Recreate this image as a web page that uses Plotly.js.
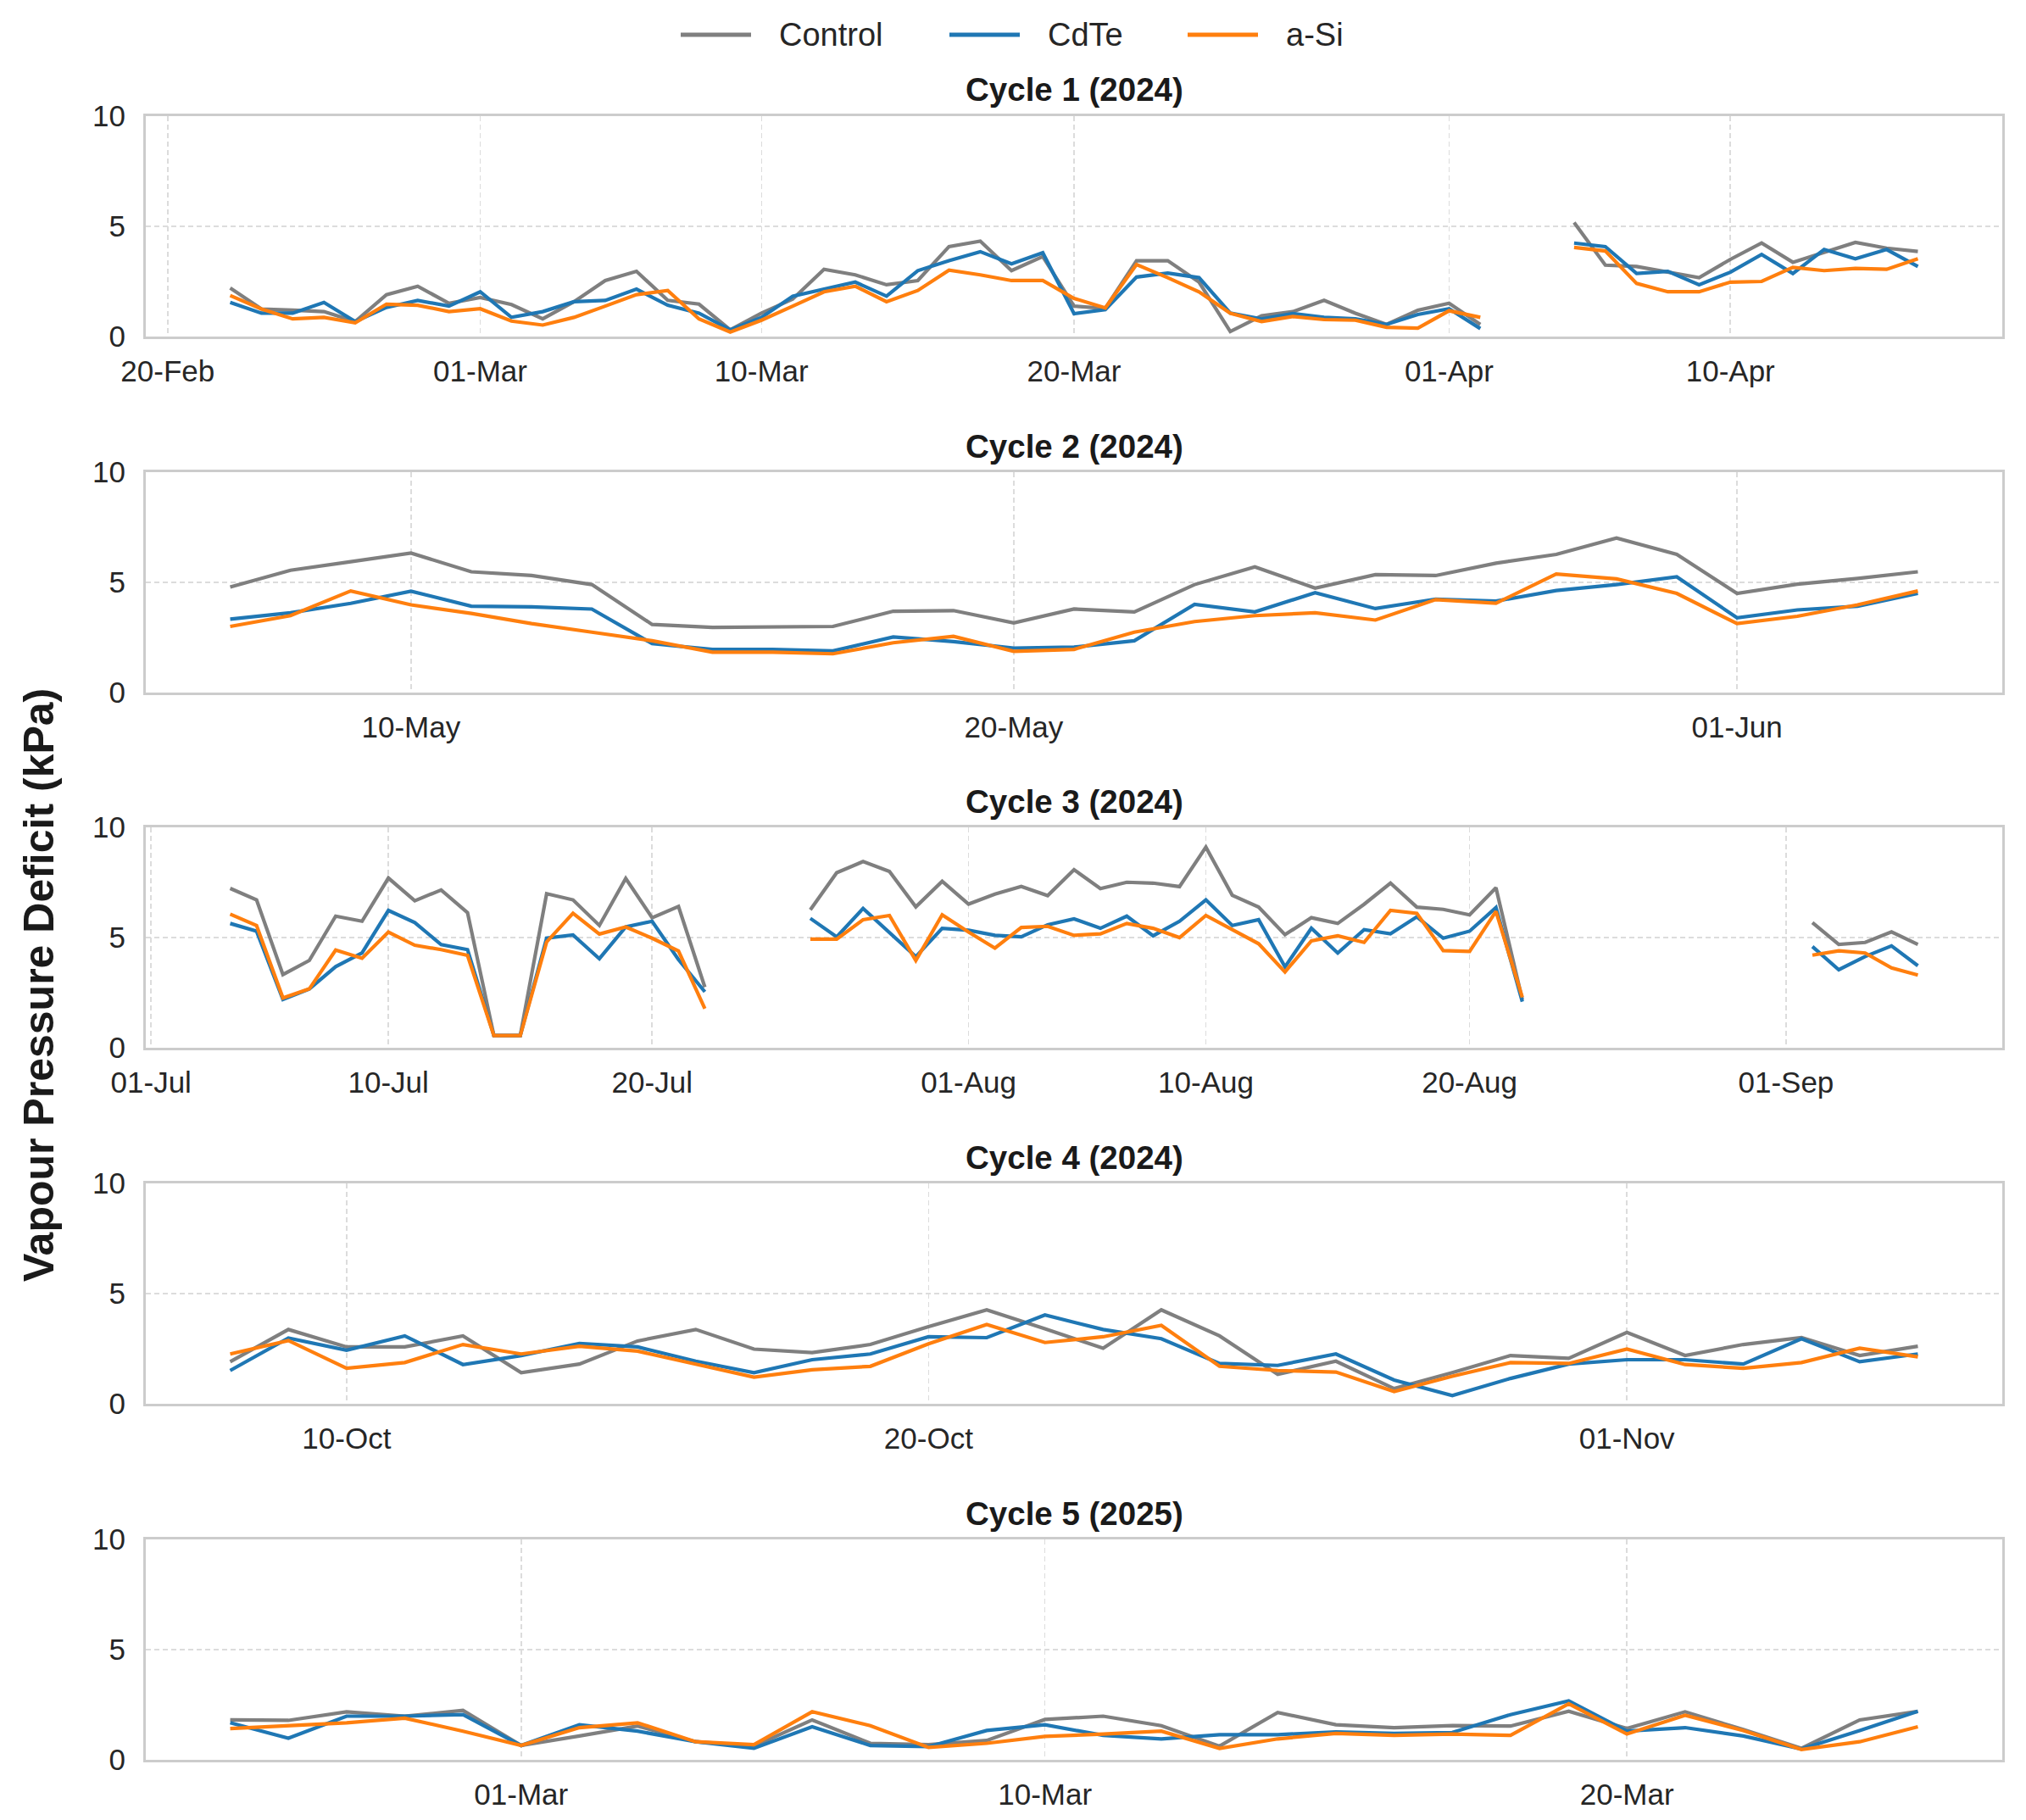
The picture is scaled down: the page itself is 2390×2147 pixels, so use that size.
<!DOCTYPE html>
<html>
<head>
<meta charset="utf-8">
<script src="https://cdn.plot.ly/plotly-3.0.1.min.js"></script>
<style>
  html, body { margin: 0; padding: 0; background: #ffffff; }
  #vpd_plot { width: 2390px; height: 2147px; }
</style>
</head>
<body>
<div id="vpd_plot"></div>
<script>

// series names and colours
const seriesNames = ['Control', 'CdTe', 'a-Si'];
const seriesColors = ['#7f7f7f', '#1f77b4', '#ff7f0e'];

// one entry per cycle: first day, then daily values (null = no reading)
const cycleTitles = ['Cycle 1 (2024)', 'Cycle 2 (2024)', 'Cycle 3 (2024)', 'Cycle 4 (2024)', 'Cycle 5 (2025)'];
const cycleStart = ['2024-02-22', '2024-05-07', '2024-07-04', '2024-10-08', '2025-02-24'];

// Cycle 1: 22-Feb .. 16-Apr 2024
const c1Control = [
    2.20, 1.25, 1.20, 1.13, 0.68, 1.90, 2.28, 1.51,
    1.77, 1.45, 0.80, 1.58, 2.54, 2.96, 1.64, 1.47, 0.30, 1.06, 1.70, 3.05, 2.80, 2.35, 2.54, 4.08, 4.33, 2.99, 3.63, 1.38, 1.28, 3.44, 3.44, 2.47, 0.23, 0.94, 1.13, 1.64, 1.06, 0.55, 1.19,
    1.51, 0.55, null, null, 5.17, 3.24, 3.18, 2.92, 2.67, 3.50, 4.24, 3.37, 3.82, 4.27, 4.01, 3.86];
const c1CdTe = [
    1.55, 1.06, 1.06, 1.55, 0.68, 1.32, 1.64, 1.38,
    2.03, 0.87, 1.13, 1.58, 1.64, 2.15, 1.42, 1.06, 0.30, 0.87, 1.83, 2.15, 2.47, 1.83, 2.99, 3.44, 3.85, 3.30, 3.80, 1.04, 1.22, 2.70, 2.88, 2.67, 1.06, 0.80, 1.04, 0.87, 0.80, 0.55, 1.00,
    1.26, 0.36, null, null, 4.24, 4.08, 2.86, 2.96, 2.35, 2.92, 3.72, 2.86, 3.95, 3.53, 3.95, 3.18];
const c1aSi = [
    1.86, 1.25, 0.80, 0.87, 0.62, 1.47, 1.42, 1.13,
    1.26, 0.70, 0.52, 0.87, 1.38, 1.90, 2.09, 0.80, 0.20, 0.74, 1.38, 2.03, 2.28, 1.58, 2.09, 3.01, 2.80, 2.54, 2.54, 1.73, 1.30, 3.27, 2.67, 2.03, 1.06, 0.68, 0.91, 0.77, 0.74, 0.42, 0.38,
    1.17, 0.87, null, null, 4.04, 3.88, 2.41, 2.03, 2.03, 2.47, 2.50, 3.14, 2.99, 3.09, 3.05, 3.53];

// Cycle 2: 07-May .. 04-Jun 2024
const c2Control = [4.79, 5.55, 5.94, 6.33, 5.48, 5.31, 4.90, 3.09, 2.96, 2.96, 3.00, 3.69, 3.72, 3.16,
    3.79, 3.66, 4.90, 5.70, 4.74, 5.35, 5.31, 5.87, 6.27, 7.01, 6.27, 4.50, 4.92, 5.18, 5.48];
const c2CdTe = [3.33, 3.62, 4.05, 4.60, 3.92, 3.89, 3.79, 2.22, 1.96, 1.96, 1.89, 2.52, 2.31, 2.02,
    2.06, 2.35, 4.00, 3.66, 4.53, 3.81, 4.24, 4.15, 4.63, 4.90, 5.25, 3.39, 3.75, 3.92, 4.50];
const c2aSi = [3.00, 3.49, 4.61, 3.98, 3.59, 3.13, 2.74, 2.35, 1.83, 1.83, 1.76, 2.26, 2.55, 1.87,
    1.96, 2.74, 3.22, 3.49, 3.62, 3.29, 4.22, 4.05, 5.38, 5.16, 4.50, 3.13, 3.46, 3.98, 4.61];

// Cycle 3: 04-Jul .. 06-Sep 2024
const c3Control = [
    7.23, 6.71, 3.32, 3.96, 5.97, 5.74, 7.70, 6.67, 7.16, 6.13, 0.55, 0.55, 6.99, 6.71, 5.55, 7.68, 5.90, 6.41, 2.75, null, null, null, 6.26, 7.94, 8.45, 8.00, 6.39, 7.55,
    6.52, 6.97, 7.32, 6.90, 8.08, 7.22, 7.51, 7.47, 7.31, 9.10, 6.92, 6.38, 5.13, 5.90, 5.64, 6.51, 7.47, 6.38, 6.28, 6.03, 7.26, 2.18,
    null, null, null, null, null, null, null, null, null,
    null, 5.68, 4.69, 4.78, 5.26, 4.69];
const c3CdTe = [
    5.64, 5.29, 2.19, 2.67, 3.68, 4.30, 6.23, 5.68, 4.68, 4.45, 0.55, 0.55, 4.97, 5.12, 4.04, 5.48, 5.74, 4.00, 2.54, null, null, null, 5.87, 5.03, 6.32, 5.23, 4.13, 5.42,
    5.33, 5.10, 5.03, 5.58, 5.85, 5.42, 5.97, 5.08, 5.74, 6.71, 5.55, 5.81, 3.67, 5.42, 4.30, 5.36, 5.17, 5.94, 4.97, 5.29, 6.36, 2.09,
    null, null, null, null, null, null, null, null, null,
    null, 4.59, 3.54, 4.14, 4.62, 3.72];
const c3aSi = [
    6.06, 5.55, 2.26, 2.67, 4.43, 4.06, 5.25, 4.65, 4.45, 4.19, 0.55, 0.55, 4.80, 6.10, 5.16, 5.48, 4.97, 4.39, 1.77, null, null, null, 4.93, 4.93, 5.81, 6.00, 3.96, 6.03,
    5.25, 4.52, 5.46, 5.51, 5.10, 5.17, 5.64, 5.42, 5.00, 6.00, 5.36, 4.72, 3.44, 4.85, 5.08, 4.78, 6.23, 6.10, 4.41, 4.37, 6.19, 2.28,
    null, null, null, null, null, null, null, null, null,
    null, 4.20, 4.40, 4.30, 3.62, 3.30];

// Cycle 4: 08-Oct .. 06-Nov 2024
const c4Control = [1.91, 3.37, 2.58, 2.58, 3.08, 1.41, 1.80, 2.85, 3.37, 2.48, 2.32, 2.69, 3.50, 4.26, 3.40,
    2.52, 4.26, 3.08, 1.34, 1.93, 0.69, 1.41, 2.19, 2.06, 3.24, 2.19, 2.69, 3.00, 2.19, 2.61];
const c4CdTe = [1.51, 2.98, 2.43, 3.08, 1.78, 2.19, 2.74, 2.58, 1.93, 1.41, 2.00, 2.26, 3.04, 3.00, 4.03,
    3.37, 2.95, 1.83, 1.74, 2.26, 1.08, 0.37, 1.15, 1.80, 2.00, 2.00, 1.80, 2.95, 1.91, 2.26];
const c4aSi = [2.26, 2.87, 1.61, 1.87, 2.69, 2.26, 2.61, 2.39, 1.80, 1.21, 1.54, 1.70, 2.72, 3.60, 2.78,
    3.04, 3.56, 1.70, 1.51, 1.44, 0.56, 1.25, 1.87, 1.83, 2.48, 1.78, 1.61, 1.87, 2.52, 2.13];

// Cycle 5: 24-Feb .. 25-Mar 2025
const c5Control = [1.81, 1.79, 2.18, 1.98, 2.24, 0.65, 1.08, 1.53, 0.82, 0.62, 1.81, 0.75, 0.69, 0.88, 1.83,
    1.98, 1.55, 0.62, 2.15, 1.59, 1.46, 1.55, 1.53, 2.20, 1.42, 2.18, 1.37, 0.52, 1.81, 2.20];
const c5CdTe = [1.68, 0.98, 1.98, 1.98, 2.05, 0.65, 1.59, 1.30, 0.82, 0.52, 1.50, 0.65, 0.60, 1.33, 1.59,
    1.11, 0.95, 1.14, 1.14, 1.27, 1.20, 1.24, 2.05, 2.67, 1.30, 1.46, 1.08, 0.49, 1.33, 2.20];
const c5aSi = [1.42, 1.53, 1.68, 1.89, 1.30, 0.65, 1.46, 1.68, 0.82, 0.69, 2.18, 1.55, 0.56, 0.75, 1.06,
    1.17, 1.30, 0.52, 0.95, 1.20, 1.11, 1.17, 1.11, 2.54, 1.17, 2.02, 1.33, 0.47, 0.82, 1.50];

const cycleValues = [
    [c1Control, c1CdTe, c1aSi],
    [c2Control, c2CdTe, c2aSi],
    [c3Control, c3CdTe, c3aSi],
    [c4Control, c4CdTe, c4aSi],
    [c5Control, c5CdTe, c5aSi]
];

const yTicks = [0, 5, 10];
const tickDays = [1, 10, 20];


const W = 2390;
const H = 2147;
const DAY = 86400000;

// panel boxes in page pixels
const plotLeft = 172;
const plotRight = 2362;
const panelTop = [137, 557, 976, 1396, 1816];
const panelHeight = 260;

// legend row (drawn by hand so the key lines are as long as the original)
const legendY = 41;
const legendLineX = [803, 1120, 1401];
const legendLineLen = 83;
const legendTextGap = 31;

function fmt(ms) {
    return new Date(ms).toISOString().replace('T', ' ').replace('Z', '');
}

function dayList(start, n) {
    let t0 = Date.parse(start + 'T00:00:00Z');
    return Array.from({ length: n }, (_, i) => fmt(t0 + i * DAY).slice(0, 10));
}

function tickDates(t0, t1) {
    let out = [];
    for (let t = Math.ceil(t0 / DAY) * DAY; t <= t1; t += DAY) {
        if (tickDays.includes(new Date(t).getUTCDate())) out.push(fmt(t).slice(0, 10));
    }
    return out;
}

const fontFamily = 'Arial, "Liberation Sans", sans-serif';
const tickFont = { family: fontFamily, size: 35, color: '#262626' };

let traces = [];
let layout = {
    width: W,
    height: H,
    margin: { l: 0, r: 0, t: 0, b: 0 },
    paper_bgcolor: '#ffffff',
    plot_bgcolor: '#ffffff',
    font: tickFont,
    showlegend: false,
    annotations: [],
    shapes: []
};

for (let c = 0; c < cycleValues.length; c++) {
    let n = cycleValues[c][0].length;
    let days = dayList(cycleStart[c], n);
    let suffix = c === 0 ? '' : String(c + 1);

    for (let s = 0; s < seriesNames.length; s++) {
        traces.push({
            type: 'scatter',
            mode: 'lines',
            x: days,
            y: cycleValues[c][s],
            name: seriesNames[s],
            connectgaps: false,
            line: { color: seriesColors[s], width: 4.2 },
            xaxis: 'x' + suffix,
            yaxis: 'y' + suffix
        });
    }

    // 5% padding either side, like the matplotlib default
    let t0 = Date.parse(days[0] + 'T00:00:00Z');
    let t1 = Date.parse(days[n - 1] + 'T00:00:00Z');
    let pad = (t1 - t0) * 0.05;

    let top = panelTop[c];
    let bottom = top + panelHeight;

    layout['xaxis' + suffix] = {
        type: 'date',
        domain: [plotLeft / W, plotRight / W],
        anchor: 'y' + suffix,
        range: [fmt(t0 - pad), fmt(t1 + pad)],
        tickmode: 'array',
        tickvals: tickDates(t0 - pad, t1 + pad),
        tickformat: '%d-%b',
        ticks: 'outside', ticklen: 8, tickcolor: 'rgba(0,0,0,0)',
        tickfont: tickFont,
        showgrid: true, gridcolor: '#dcdcdc', gridwidth: 1.6, griddash: '6px,4px',
        showline: true, linecolor: '#cccccc', linewidth: 3, mirror: true,
        zeroline: false
    };
    layout['yaxis' + suffix] = {
        domain: [1 - bottom / H, 1 - top / H],
        anchor: 'x' + suffix,
        range: [0, 10],
        tickmode: 'array',
        tickvals: yTicks,
        ticks: 'outside', ticklen: 14, tickcolor: 'rgba(0,0,0,0)',
        tickfont: tickFont,
        showgrid: true, gridcolor: '#dcdcdc', gridwidth: 1.6, griddash: '6px,4px',
        showline: true, linecolor: '#cccccc', linewidth: 3, mirror: true,
        zeroline: false
    };

    layout.annotations.push({
        text: cycleTitles[c],
        xref: 'paper', yref: 'paper',
        x: (plotLeft + plotRight) / 2 / W,
        y: 1 - (top - 31) / H,
        xanchor: 'center', yanchor: 'middle',
        showarrow: false,
        font: { family: fontFamily, size: 38.5, color: '#1a1a1a', weight: 'bold' }
    });
}

for (let s = 0; s < seriesNames.length; s++) {
    layout.shapes.push({
        type: 'line',
        xref: 'paper', yref: 'paper',
        x0: legendLineX[s] / W, x1: (legendLineX[s] + legendLineLen) / W,
        y0: 1 - legendY / H, y1: 1 - legendY / H,
        line: { color: seriesColors[s], width: 5 }
    });
    layout.annotations.push({
        text: seriesNames[s],
        xref: 'paper', yref: 'paper',
        x: (legendLineX[s] + legendLineLen + legendTextGap) / W,
        y: 1 - legendY / H,
        xanchor: 'left', yanchor: 'middle',
        showarrow: false,
        font: { family: fontFamily, size: 38, color: '#262626' }
    });
}

layout.annotations.push({
    text: 'Vapour Pressure Deficit (kPa)',
    xref: 'paper', yref: 'paper',
    x: 46 / W, y: 1 - 1162 / H,
    xanchor: 'center', yanchor: 'middle',
    textangle: -90,
    showarrow: false,
    font: { family: fontFamily, size: 50, color: '#1a1a1a', weight: 'bold' }
});

Plotly.newPlot('vpd_plot', traces, layout, { staticPlot: true });

</script>
</body>
</html>
